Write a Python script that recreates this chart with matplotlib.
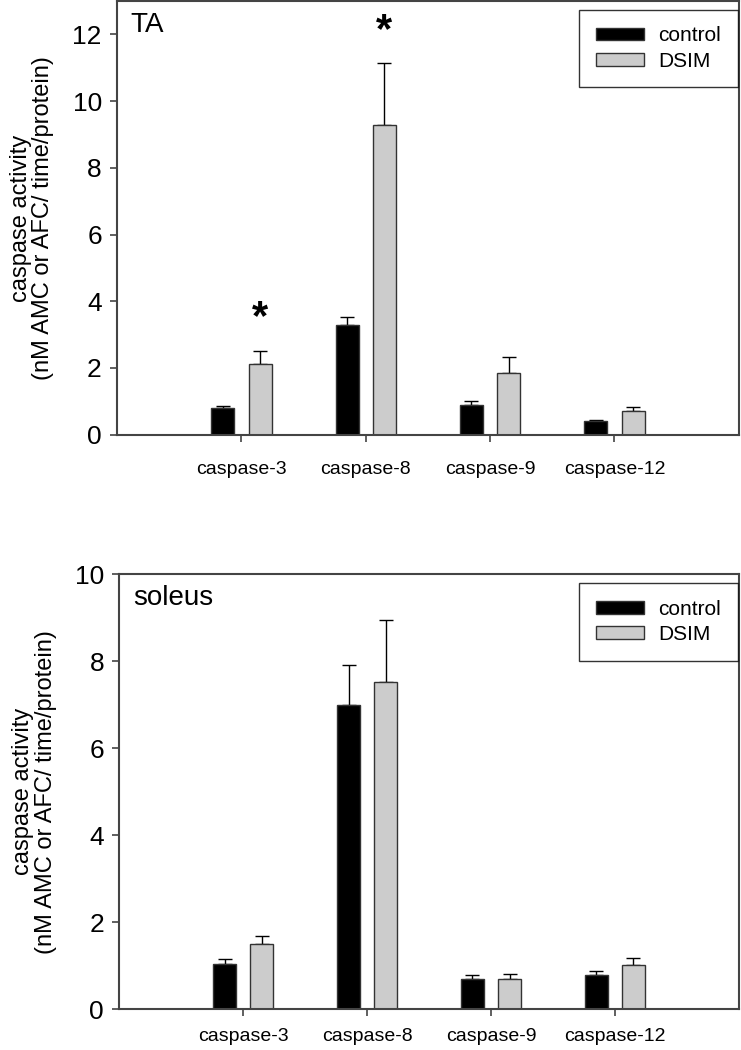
import matplotlib
matplotlib.use("Agg")
import matplotlib.pyplot as plt
import numpy as np

plt.rcParams['font.family'] = ['Liberation Sans', 'DejaVu Sans']

categories = ["caspase-3", "caspase-8", "caspase-9", "caspase-12"]

# TA panel
ta_control = [0.80, 3.28, 0.90, 0.40]
ta_control_err = [0.06, 0.24, 0.10, 0.05]
ta_dsim = [2.12, 9.28, 1.86, 0.70]
ta_dsim_err = [0.40, 1.85, 0.46, 0.14]
ta_sig = [True, True, False, False]

# soleus panel
sol_control = [1.03, 7.00, 0.69, 0.78]
sol_control_err = [0.13, 0.91, 0.09, 0.10]
sol_dsim = [1.49, 7.53, 0.69, 1.02]
sol_dsim_err = [0.20, 1.43, 0.11, 0.16]
sol_sig = [False, False, False, False]

ylabel = "caspase activity\n(nM AMC or AFC/ time/protein)"
spine_col = "#444444"


def panel(ax, ctrl, ctrl_err, dsim, dsim_err, sig, title, ymax, yticks, xpad):
    x = np.arange(len(categories))
    w = 0.185
    off = 0.15
    ax.bar(x - off, ctrl, w, color="black", edgecolor="#333333", linewidth=1.0,
           label="control", zorder=2)
    ax.bar(x + off, dsim, w, color="#cccccc", edgecolor="#333333", linewidth=1.0,
           label="DSIM", zorder=2)
    ax.errorbar(x - off, ctrl, yerr=[np.zeros(len(ctrl)), ctrl_err], fmt="none",
                ecolor="black", elinewidth=1.0, capsize=4.8, capthick=1.0, zorder=1)
    ax.errorbar(x + off, dsim, yerr=[np.zeros(len(dsim)), dsim_err], fmt="none",
                ecolor="black", elinewidth=1.0, capsize=4.8, capthick=1.0, zorder=1)
    for i, s in enumerate(sig):
        if s:
            ax.annotate("*", xy=(x[i] + off, dsim[i] + dsim_err[i]),
                        xytext=(0, 9), textcoords="offset points",
                        ha="center", va="bottom", fontsize=30, fontweight="bold")
    ax.set_xlim(-1, 4)
    ax.set_ylim(0, ymax)
    ax.set_yticks(yticks)
    ax.set_xticks(x)
    ax.set_xticklabels(categories, fontsize=14)
    ax.tick_params(axis="y", labelsize=19, direction="out", length=5, width=1.2,
                   color=spine_col, pad=6)
    ax.tick_params(axis="x", direction="out", length=5, width=1.2,
                   color=spine_col, pad=xpad)
    for sp in ax.spines.values():
        sp.set_color(spine_col)
        sp.set_linewidth(1.5)
    ax.set_ylabel(ylabel, fontsize=17, linespacing=1.05, labelpad=13)
    ax.text(0.022, 0.975, title, transform=ax.transAxes, ha="left", va="top",
            fontsize=20)
    leg = ax.legend(loc="upper right", bbox_to_anchor=(0.9985, 0.98), fontsize=15,
                    frameon=True, fancybox=False, edgecolor="black",
                    handlelength=2.3, handleheight=0.55, borderpad=0.8,
                    labelspacing=0.3, handletextpad=0.7, borderaxespad=0.0)
    leg.get_frame().set_linewidth(1.0)


fig = plt.figure(figsize=(7.41, 10.5), dpi=100)
ax1 = fig.add_axes([0.158, 0.586, 0.839, 0.413])
ax2 = fig.add_axes([0.161, 0.039, 0.836, 0.414])

panel(ax1, ta_control, ta_control_err, ta_dsim, ta_dsim_err, ta_sig, "TA", 13,
      [0, 2, 4, 6, 8, 10, 12], 14)
panel(ax2, sol_control, sol_control_err, sol_dsim, sol_dsim_err, sol_sig, "soleus", 10,
      [0, 2, 4, 6, 8, 10], 9)

fig.savefig("out.png", dpi=100)
